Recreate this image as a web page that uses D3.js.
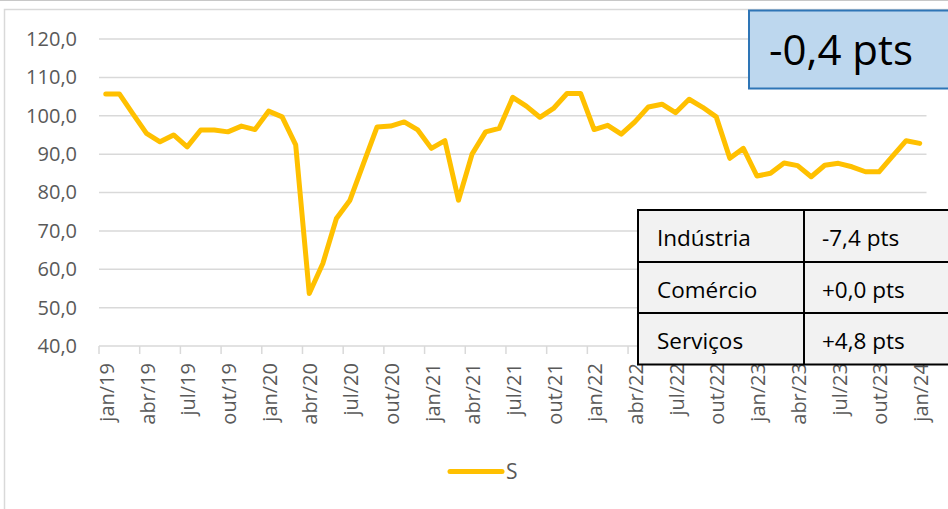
<!DOCTYPE html>
<html>
<head>
<meta charset="utf-8">
<script src="https://cdn.jsdelivr.net/npm/d3@7"></script>
<style>
  body { margin: 0; background: #fff; }
  svg { display: block; font-family: "Open Sans", sans-serif; }
</style>
</head>
<body>
<div id="chart"></div>
<script>
// month names (pt-BR) and the years covered
const monthNames = ["jan", "fev", "mar", "abr", "mai", "jun", "jul", "ago", "set", "out", "nov", "dez"]
const years = ["19", "20", "21", "22", "23", "24"]

// S index, jan/19 .. jan/24
const seriesS = [
  105.7, 105.7, 100.5, 95.4, 93.2, 95.0, 91.9, 96.3, 96.3, 95.8, 97.3, 96.4,
  101.2, 99.7, 92.4, 53.7, 61.5, 73.2, 78.0, 87.6, 97.1, 97.3, 98.4, 96.3,
  91.5, 93.5, 78.0, 90.0, 95.8, 96.7, 104.8, 102.5, 99.6, 101.9, 105.8, 105.8,
  96.4, 97.5, 95.2, 98.4, 102.3, 103.0, 100.8, 104.3, 102.2, 99.7, 88.9, 91.5,
  84.3, 85.0, 87.7, 87.0, 84.1, 87.1, 87.6, 86.7, 85.4, 85.4, 89.5, 93.5,
  92.8
]

const yTicks = [40, 50, 60, 70, 80, 90, 100, 110, 120]
const headline = "-0,4 pts"
const tableLabels = ["Indústria", "Comércio", "Serviços"]
const tableValues = ["-7,4 pts", "+0,0 pts", "+4,8 pts"]
const legendLabel = "S"

const W = 948, H = 509
const LEFT = 99, RIGHT = 926.5, TOP = 39, BOTTOM = 346

let months = []
years.forEach(function (y) {
    monthNames.forEach(function (m) { months.push(m + "/" + y) })
})
months = months.slice(0, seriesS.length)
const tickMonths = months.filter(function (d, i) { return i % 3 === 0 })

const svg = d3.select("#chart").append("svg")
    .attr("width", W)
    .attr("height", H)

// chart frame
svg.append("line")
    .attr("x1", 0).attr("x2", W).attr("y1", 0.5).attr("y2", 0.5)
    .style("stroke", "#c8c8c8").style("stroke-width", 1)
svg.append("rect")
    .attr("x", 4.5).attr("y", 9.5)
    .attr("width", W + 10).attr("height", H + 10)
    .style("fill", "#fff").style("stroke", "#d9d9d9").style("stroke-width", 1.5)

const xscale = d3.scaleBand()
    .domain(months)
    .range([LEFT, RIGHT])
    .padding(0)

const yscale = d3.scaleLinear()
    .domain([40, 120])
    .range([BOTTOM, TOP])

// gridlines
svg.append("g")
    .selectAll("line")
    .data(yTicks.slice(1))
    .join("line")
    .attr("x1", LEFT).attr("x2", RIGHT)
    .attr("y1", d => yscale(d)).attr("y2", d => yscale(d))
    .style("stroke", "#d9d9d9")
    .style("stroke-width", 1.5)

// y axis
const y_axis = d3.axisLeft(yscale)
    .tickValues(yTicks)
    .tickSize(0)
    .tickPadding(22)
    .tickFormat(d => d.toFixed(1).replace(".", ","))
const gy = svg.append("g")
    .attr("transform", "translate(" + LEFT + ",0)")
    .call(y_axis)
gy.select(".domain").remove()
gy.selectAll("text")
    .style("font-family", "Open Sans")
    .style("font-size", "20px")
    .style("fill", "#595959")

// x axis
const half = xscale.bandwidth() / 2
const x_axis = d3.axisBottom(xscale)
    .tickValues(tickMonths)
    .tickSize(8)
    .tickPadding(0)
const gx = svg.append("g")
    .attr("transform", "translate(0," + BOTTOM + ")")
    .call(x_axis)
gx.select(".domain")
    .attr("d", "M" + LEFT + ",0H" + RIGHT)
    .style("stroke", "#d9d9d9").style("stroke-width", 1.5)
gx.selectAll(".tick line")
    .attr("x1", -half).attr("x2", -half)
    .style("stroke", "#d9d9d9").style("stroke-width", 1.5)
gx.selectAll(".tick text")
    .attr("transform", "rotate(-90)")
    .attr("x", -17)
    .attr("y", 1)
    .attr("dy", "0.36em")
    .attr("text-anchor", "end")
    .style("font-family", "Open Sans")
    .style("font-size", "20px")
    .style("fill", "#595959")

// series line
const line = d3.line()
    .x((d, i) => xscale(months[i]) + half)
    .y(d => yscale(d))
svg.append("path")
    .datum(seriesS)
    .attr("d", line)
    .style("fill", "none")
    .style("stroke", "#ffc000")
    .style("stroke-width", 5)
    .style("stroke-linejoin", "round")
    .style("stroke-linecap", "round")

// legend
svg.append("line")
    .attr("x1", 450).attr("x2", 502).attr("y1", 471.5).attr("y2", 471.5)
    .style("stroke", "#ffc000").style("stroke-width", 5).style("stroke-linecap", "round")
svg.append("text")
    .attr("x", 506).attr("y", 479)
    .style("font-size", "21px").style("fill", "#595959")
    .text(legendLabel)

// headline box
svg.append("rect")
    .attr("x", 749).attr("y", 10.5)
    .attr("width", 210).attr("height", 78)
    .style("fill", "#bdd7ee").style("stroke", "#2e75b6").style("stroke-width", 2)
svg.append("text")
    .attr("x", 769).attr("y", 65)
    .style("font-size", "42px").style("fill", "#000")
    .text(headline)

// table
const rowTop = [210, 262, 313]
const rowH = 51.5
const tbl = svg.append("g")
tbl.selectAll("rect.cell")
    .data(tableLabels)
    .join("rect")
    .attr("class", "cell")
    .attr("x", 638).attr("y", (d, i) => rowTop[i])
    .attr("width", 330).attr("height", (d, i) => i < 2 ? rowTop[i + 1] - rowTop[i] : rowH)
    .style("fill", "#f2f2f2").style("stroke", "#000").style("stroke-width", 2)
tbl.append("line")
    .attr("x1", 804).attr("x2", 804).attr("y1", rowTop[0]).attr("y2", rowTop[2] + rowH)
    .style("stroke", "#000").style("stroke-width", 2)
tbl.selectAll("text.lab")
    .data(tableLabels)
    .join("text")
    .attr("class", "lab")
    .attr("x", 657).attr("y", (d, i) => rowTop[i] + 35.5)
    .style("font-size", "22.5px").style("fill", "#000")
    .text(d => d)
tbl.selectAll("text.val")
    .data(tableValues)
    .join("text")
    .attr("class", "val")
    .attr("x", 822).attr("y", (d, i) => rowTop[i] + 35.5)
    .style("font-size", "22.5px").style("fill", "#000")
    .text(d => d)
</script>
</body>
</html>
